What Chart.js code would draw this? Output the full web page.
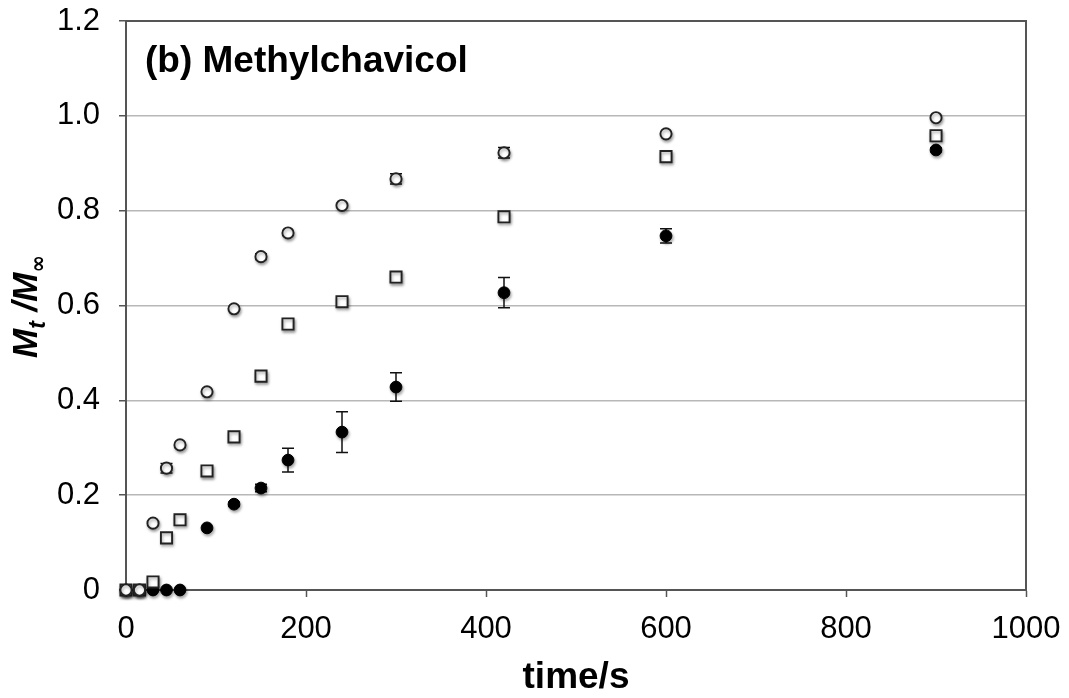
<!DOCTYPE html>
<html>
<head>
<meta charset="utf-8">
<script src="https://cdn.jsdelivr.net/npm/chart.js@4.4.1/dist/chart.umd.min.js"></script>
<style>
  html, body { margin: 0; padding: 0; background: #fff; }
  #wrap { width: 1069px; height: 698px; position: relative; }
</style>
</head>
<body>
<div id="wrap"><canvas id="c" width="1069" height="698"></canvas></div>
<script>
// ---- data ----
const times = [0, 15, 30, 45, 60, 90, 120, 150, 180, 240, 300, 420, 600, 900];
const openCircles = [0, 0, 0.141, 0.257, 0.306, 0.418, 0.593, 0.703, 0.753, 0.811, 0.867, 0.922, 0.962, 0.996];
const openCirclesErr = [0, 0, 0, 0.01, 0, 0, 0, 0.006, 0, 0, 0.011, 0.011, 0, 0];
const squares = [0, 0, 0.017, 0.110, 0.148, 0.251, 0.323, 0.451, 0.561, 0.608, 0.660, 0.787, 0.914, 0.958];
const squaresErr = [0, 0, 0.008, 0, 0, 0, 0, 0.008, 0, 0, 0, 0, 0, 0];
const filled = [0, 0, 0, 0, 0, 0.131, 0.181, 0.215, 0.274, 0.333, 0.428, 0.627, 0.747, 0.928];
const filledErr = [0, 0, 0, 0, 0, 0, 0.004, 0.008, 0.025, 0.043, 0.03, 0.032, 0.015, 0.004];
const xTicks = [0, 200, 400, 600, 800, 1000];
const yTicks = [0, 0.2, 0.4, 0.6, 0.8, 1.0, 1.2];
const panelTitle = '(b) Methylchavicol';
const xTitle = 'time/s';

const pts = (vals) => times.map((t, i) => ({ x: t, y: vals[i] }));
const errs = [openCirclesErr, squaresErr, filledErr];

const borderCol = '#555555';
const gridCol = '#b8b8b8';
const FONT = '"Liberation Sans", Arial, sans-serif';

const errorBars = {
  id: 'errorBars',
  beforeDatasetsDraw(chart) {
    const { ctx, scales: { x, y } } = chart;
    ctx.save();
    ctx.strokeStyle = '#111';
    ctx.lineWidth = 1.5;
    chart.data.datasets.forEach((ds, di) => {
      const e = errs[di];
      ds.data.forEach((p, i) => {
        if (!e[i]) return;
        const px = x.getPixelForValue(p.x);
        const top = y.getPixelForValue(p.y + e[i]);
        const bot = y.getPixelForValue(p.y - e[i]);
        ctx.beginPath();
        ctx.moveTo(px, top); ctx.lineTo(px, bot);
        ctx.moveTo(px - 6, top); ctx.lineTo(px + 6, top);
        ctx.moveTo(px - 6, bot); ctx.lineTo(px + 6, bot);
        ctx.stroke();
      });
    });
    ctx.restore();
  }
};

const shadows = {
  id: 'shadows',
  beforeDatasetDraw(chart) {
    const ctx = chart.ctx;
    ctx.save();
    ctx.shadowColor = 'rgba(0,0,0,0.35)';
    ctx.shadowBlur = 3;
    ctx.shadowOffsetX = 1;
    ctx.shadowOffsetY = 2;
  },
  afterDatasetDraw(chart) {
    chart.ctx.restore();
  }
};

const decorations = {
  id: 'decorations',
  afterDraw(chart) {
    const { ctx, chartArea: a } = chart;
    ctx.save();
    // top and right frame
    ctx.strokeStyle = borderCol;
    ctx.lineWidth = 2;
    ctx.beginPath();
    ctx.moveTo(a.left, a.top);
    ctx.lineTo(a.right, a.top);
    ctx.lineTo(a.right, a.bottom);
    ctx.stroke();
    // panel title
    ctx.fillStyle = '#000';
    ctx.font = 'bold 37px ' + FONT;
    ctx.textBaseline = 'alphabetic';
    ctx.textAlign = 'left';
    ctx.fillText(panelTitle, 145, 72);
    // y-axis title: M_t / M_inf, rotated
    ctx.translate(37, 358);
    ctx.rotate(-Math.PI / 2);
    let cx = 0;
    const big = 'italic bold 35px ' + FONT;
    const small = 'italic bold 23px ' + FONT;
    const part = (txt, font, dy) => {
      ctx.font = font;
      ctx.fillText(txt, cx, dy);
      cx += ctx.measureText(txt).width;
    };
    part('M', big, 0);
    part('t', small, 8);
    part(' /', big, 0);
    part('M', big, 0);
    part('\u221E', 'bold 21px "DejaVu Sans", sans-serif', 8);
    ctx.restore();
  }
};

new Chart(document.getElementById('c'), {
  type: 'scatter',
  data: {
    datasets: [
      { label: 'open circles', data: pts(openCircles), pointStyle: 'circle', pointRadius: 5.6,
        pointBackgroundColor: '#ffffff', pointBorderColor: '#222', pointBorderWidth: 1.9, clip: false },
      { label: 'squares', data: pts(squares), pointStyle: 'rect', pointRadius: 7.9,
        pointBackgroundColor: '#ffffff', pointBorderColor: '#222', pointBorderWidth: 1.9, clip: false },
      { label: 'filled circles', data: pts(filled), pointStyle: 'circle', pointRadius: 5.9,
        pointBackgroundColor: '#000000', pointBorderColor: '#000', pointBorderWidth: 1, clip: false }
    ]
  },
  options: {
    responsive: false,
    animation: false,
    layout: { padding: { top: 21, right: 43, left: 0, bottom: 0 } },
    plugins: { legend: { display: false }, tooltip: { enabled: false } },
    scales: {
      x: {
        type: 'linear', min: 0, max: 1000,
        afterFit(s) { s.height = 108; s.paddingLeft = 0; s.paddingRight = 0; },
        afterBuildTicks(s) { s.ticks = xTicks.map(v => ({ value: v })); },
        ticks: { color: '#000', padding: 14, font: { family: FONT, size: 31 },
          callback: v => String(v) },
        grid: { drawOnChartArea: false, drawTicks: true, tickLength: 7, tickColor: borderCol, tickWidth: 1.5 },
        border: { color: borderCol, width: 2 },
        title: { display: true, text: xTitle, color: '#000', padding: { top: 0, bottom: -2 },
          font: { family: FONT, size: 37, weight: 'bold' } }
      },
      y: {
        type: 'linear', min: 0, max: 1.2,
        afterFit(s) { s.width = 126; s.paddingTop = 0; s.paddingBottom = 0; },
        afterBuildTicks(s) { s.ticks = yTicks.map(v => ({ value: v })); },
        ticks: { color: '#000', padding: 19,
          font: { family: FONT, size: 31 },
          callback: v => (v === 0 ? '0' : v.toFixed(1)) },
        grid: {
          color: c => (c.tick && (c.tick.value === 0 || Math.abs(c.tick.value - 1.2) < 1e-9)) ? 'rgba(0,0,0,0)' : gridCol,
          lineWidth: 1.5, drawTicks: true, tickLength: 7, tickColor: borderCol, tickWidth: 1.5
        },
        border: { color: borderCol, width: 2 }
      }
    }
  },
  plugins: [errorBars, shadows, decorations]
});
</script>
</body>
</html>
